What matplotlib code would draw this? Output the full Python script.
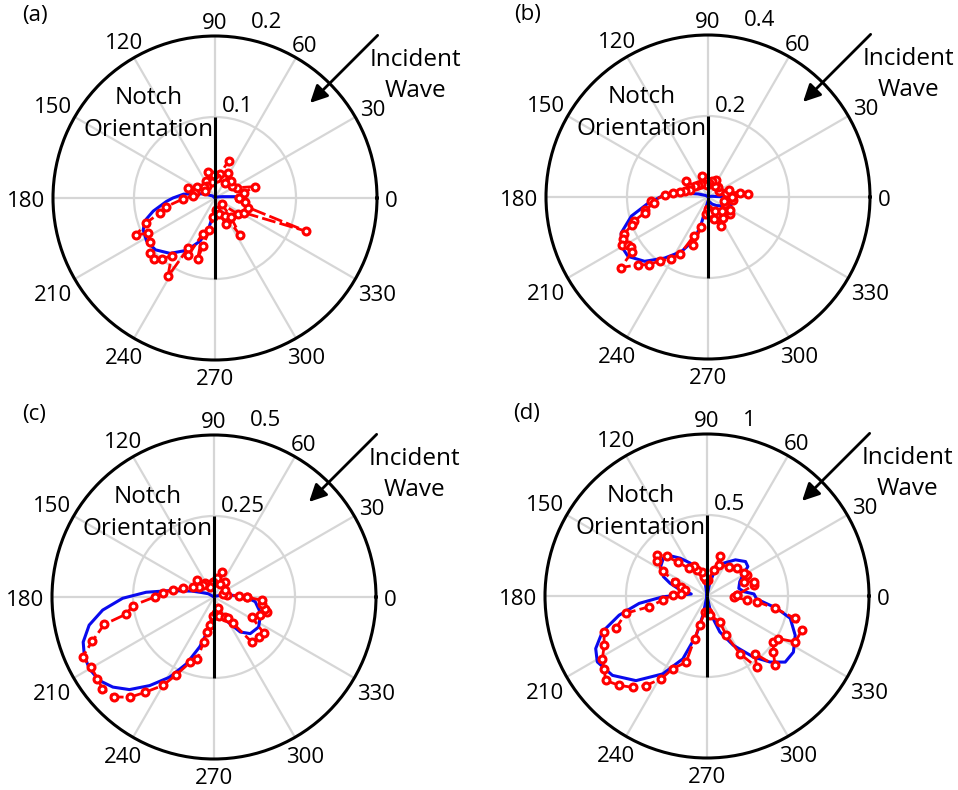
import numpy as np
import matplotlib
matplotlib.use("Agg")
import matplotlib.pyplot as plt

plt.rcParams['font.family'] = ['Open Sans', 'DejaVu Sans']
plt.rcParams['font.size'] = 16

theta_ticks = list(range(0, 360, 30))

## panel (a)
a_rmax = 0.2
a_rlabels = ["0.1", "0.2"]
a_blue_deg = [0, 3, 5, 10, 20, 40, 90, 140, 160, 167, 173, 180, 184, 192, 198, 204,
              212, 221, 231, 242, 251, 258, 264, 270, 280, 290, 305, 322, 336, 355]
a_blue_r = [0.037, 0.031, 0.019, 0.0095, 0.004, 0.001, 0.0, 0.004, 0.015, 0.023, 0.039,
            0.052, 0.060, 0.078, 0.091, 0.097, 0.0997, 0.0975, 0.088, 0.073, 0.056, 0.040,
            0.020, 0.012, 0.013, 0.018, 0.025, 0.037, 0.044, 0.041]
a_red_deg = [0, 10, 16, 25, 35, 47, 55, 62, 70, 78, 85, 92, 100, 106, 116, 125, 135, 142,
             150, 160, 167, 174, 182, 190, 195, 200, 205, 208, 214, 220, 225, 229, 233,
             239, 242, 245, 251, 254, 256, 260, 265, 275, 285, 293, 300, 304, 310, 318,
             325, 333, 340, 344, 352]
a_red_r = [0.030, 0.036, 0.051, 0.030, 0.025, 0.029, 0.022, 0.035, 0.049, 0.030, 0.025,
           0.028, 0.020, 0.033, 0.024, 0.018, 0.020, 0.015, 0.026, 0.035, 0.025, 0.027,
           0.040, 0.061, 0.070, 0.091, 0.107, 0.093, 0.097, 0.105, 0.107, 0.100, 0.089,
           0.113, 0.070, 0.078, 0.047, 0.078, 0.061, 0.040, 0.024, 0.015, 0.020, 0.035,
           0.025, 0.055, 0.030, 0.011, 0.035, 0.040, 0.120, 0.043, 0.037]

## panel (b)
b_rmax = 0.4
b_rlabels = ["0.2", "0.4"]
b_blue_deg = [0, 10, 20, 60, 120, 150, 163, 171.5, 177, 186, 194, 202.5, 209.6, 216.6,
              225.4, 234.6, 244, 252.6, 256, 260, 270, 285, 300, 315, 330, 340, 350]
b_blue_r = [0.045, 0.010, 0.004, 0.0, 0.002, 0.008, 0.026, 0.067, 0.107, 0.149, 0.195,
            0.232, 0.246, 0.246, 0.223, 0.185, 0.150, 0.110, 0.066, 0.023, 0.010, 0.012,
            0.020, 0.030, 0.045, 0.060, 0.064]
b_red_deg = [0, 4, 8, 14, 19, 30, 45, 58, 64, 75, 85, 95, 106, 118, 130, 141, 144, 152,
             158, 165, 170, 173, 178, 184, 186, 192, 194, 198, 200, 204, 206, 209, 211,
             213, 216, 219, 224, 229, 233, 239, 244, 250, 253, 257, 262, 268, 276, 285,
             293, 296, 305, 315, 322, 330, 338, 345, 354]
b_red_r = [0.060, 0.099, 0.079, 0.045, 0.056, 0.030, 0.035, 0.031, 0.047, 0.040, 0.035,
           0.030, 0.055, 0.035, 0.040, 0.042, 0.066, 0.050, 0.049, 0.060, 0.071, 0.087,
           0.107, 0.140, 0.133, 0.160, 0.161, 0.192, 0.200, 0.227, 0.234, 0.242, 0.231,
           0.228, 0.233, 0.277, 0.241, 0.221, 0.197, 0.179, 0.157, 0.102, 0.125, 0.077,
           0.043, 0.030, 0.040, 0.055, 0.079, 0.039, 0.064, 0.050, 0.070, 0.062, 0.045,
           0.042, 0.062]

## panel (c)
c_rmax = 0.5
c_rlabels = ["0.25", "0.5"]
c_blue_deg = [0.6, 7, 15, 30, 90, 150, 160, 165, 171.8, 176, 180.8, 186.7, 192.7, 199,
              204.2, 209.9, 216, 221.7, 227.6, 234, 241, 247.6, 254, 260, 266, 275, 291,
              301, 306.9, 314.7, 326, 340.7, 353.5]
c_blue_r = [0.096, 0.050, 0.020, 0.005, 0.0, 0.020, 0.040, 0.070, 0.138, 0.210, 0.282,
            0.346, 0.395, 0.427, 0.439, 0.444, 0.438, 0.418, 0.387, 0.338, 0.283, 0.223,
            0.160, 0.104, 0.056, 0.050, 0.066, 0.096, 0.135, 0.159, 0.166, 0.153, 0.128]
c_red_deg = [0, 3, 9, 20, 35, 54, 65, 73, 82, 92, 100, 111, 122, 131, 136, 145, 155, 164,
             170, 175, 180, 186, 191, 194, 200, 204.5, 209.7, 215, 219.5, 225, 230, 234,
             240, 244, 250, 255, 257, 259, 262, 268, 277, 284, 291, 298, 304, 306, 310,
             318, 324, 332, 339, 344, 347, 352, 356]
c_red_r = [0.101, 0.076, 0.040, 0.030, 0.040, 0.059, 0.045, 0.082, 0.058, 0.045, 0.040,
           0.034, 0.050, 0.050, 0.075, 0.055, 0.070, 0.099, 0.128, 0.158, 0.183, 0.252,
           0.276, 0.349, 0.400, 0.446, 0.437, 0.439, 0.446, 0.436, 0.404, 0.364, 0.315,
           0.268, 0.214, 0.197, 0.143, 0.110, 0.088, 0.060, 0.050, 0.060, 0.038, 0.070,
           0.080, 0.101, 0.183, 0.185, 0.190, 0.132, 0.153, 0.170, 0.162, 0.150, 0.148]

## panel (d) - blue (not monotonic in angle)
d_rmax = 1.0
d_rlabels = ["0.5", "1"]
d_blue_deg = [90, 78, 73.6, 63, 51.8, 41.8, 35.8, 31.7, 23.7, 13.6, 6.7, 2.5, 356.5, 350,
              345, 336, 327, 319.8, 313.7, 307.2, 298, 289.6, 282.8, 270, 258, 254.7, 249,
              240.4, 230, 220, 211, 205.3, 198.9, 192.3, 186.2, 181, 172.7, 167.3, 161,
              156, 147.5, 139, 132.5, 125.3, 117, 106.4, 97.5]
d_blue_r = [0.0, 0.080, 0.147, 0.228, 0.284, 0.319, 0.311, 0.268, 0.221, 0.202, 0.229,
            0.290, 0.307, 0.437, 0.532, 0.596, 0.636, 0.632, 0.564, 0.473, 0.344, 0.235,
            0.121, 0.0, 0.121, 0.251, 0.415, 0.553, 0.682, 0.762, 0.790, 0.760, 0.683,
            0.555, 0.421, 0.273, 0.098, 0.170, 0.241, 0.295, 0.339, 0.357, 0.337, 0.286,
            0.228, 0.147, 0.079]
d_red_deg = [1.9, 13.3, 17, 21.3, 27.7, 31.7, 42.7, 53.5, 69.4, 71.3, 75.6, 85, 95, 99.8,
             101.6, 111, 114.4, 123.5, 130.4, 135.5, 140.6, 145.5, 151, 155.6, 160, 164.5,
             176.3, 178.3, 185.2, 190.5, 192, 199.6, 199.2, 205.6, 211, 215.2, 219.8,
             225.5, 230.8, 235.7, 241, 244.8, 252.5, 253.8, 255.8, 262, 273.7, 278, 296.3,
             296, 299.7, 304.9, 309.7, 314.4, 319.9, 325.3, 329.2, 332.5, 340.2, 345.7,
             349.7, 353.5, 354, 358.6]
d_red_r = [0.186, 0.298, 0.303, 0.245, 0.281, 0.268, 0.253, 0.226, 0.206, 0.258, 0.167,
           0.100, 0.100, 0.122, 0.154, 0.173, 0.200, 0.206, 0.272, 0.348, 0.402, 0.377,
           0.312, 0.216, 0.170, 0.140, 0.160, 0.211, 0.274, 0.362, 0.513, 0.598, 0.673,
           0.704, 0.753, 0.778, 0.814, 0.774, 0.727, 0.669, 0.584, 0.496, 0.428, 0.274,
           0.186, 0.100, 0.097, 0.119, 0.178, 0.270, 0.410, 0.536, 0.463, 0.600, 0.536,
           0.498, 0.513, 0.614, 0.623, 0.562, 0.427, 0.312, 0.250, 0.166]

panels = [
    ("(a)", (215, 198), a_rmax, a_rlabels, a_blue_deg, a_blue_r, a_red_deg, a_red_r),
    ("(b)", (708, 197), b_rmax, b_rlabels, b_blue_deg, b_blue_r, b_red_deg, b_red_r),
    ("(c)", (214, 597), c_rmax, c_rlabels, c_blue_deg, c_blue_r, c_red_deg, c_red_r),
    ("(d)", (707, 596), d_rmax, d_rlabels, d_blue_deg, d_blue_r, d_red_deg, d_red_r),
]

W, H, R = 958, 790, 162
fig = plt.figure(figsize=(W / 100, H / 100), dpi=100)

for tag, (cx, cy), rmax, rlabels, bdeg, br, rdeg, rr in panels:
    ax = fig.add_axes([(cx - R) / W, (H - cy - R) / H, 2 * R / W, 2 * R / H],
                      projection='polar')
    ax.set_ylim(0, rmax)
    ax.set_xticks(np.deg2rad(theta_ticks))
    ax.set_xticklabels([])
    ax.set_yticks([rmax / 2])
    ax.set_yticklabels([])
    ax.tick_params(length=0)
    ax.grid(True, color='#d6d6d6', lw=1.6)
    ax.spines['polar'].set_color('black')
    ax.spines['polar'].set_linewidth(2.2)

    # closed curves
    bt = np.deg2rad(bdeg + bdeg[:1])
    ax.plot(bt, br + br[:1], color='#0a0aee', lw=2.2, zorder=3)
    rt = np.deg2rad(rdeg + rdeg[:1])
    ax.plot(rt, rr + rr[:1], color='#ff0000', lw=2, ls=(0, (5, 1.5)), marker='o',
            ms=5, mfc='white', mec='#ff0000', mew=2.2, zorder=4)

    # notch orientation line
    for t in (np.pi / 2, 3 * np.pi / 2):
        ax.plot([t, t], [0, rmax / 2], color='black', lw=2.2, zorder=5,
                solid_capstyle='butt')

    # angle labels just outside the circle
    for deg in theta_ticks:
        lab = str(deg)
        t = np.deg2rad(deg)
        hw = 6.4 * len(lab)
        d = 8 + np.hypot(hw * np.cos(t), 8 * np.sin(t))
        ax.annotate(lab, xy=(t, rmax), xytext=(d * np.cos(t) * 0.72, d * np.sin(t) * 0.72 - 2.5),
                    textcoords='offset points', ha='center', va='center',
                    annotation_clip=False)

    # radial labels
    ax.text(0.5 + 7 / 324, 0.5 + 91 / 324, rlabels[0], transform=ax.transAxes,
            ha='left', va='center')
    ax.text(0.5 + 36 / 324, 0.5 + 176 / 324, rlabels[1], transform=ax.transAxes,
            ha='left', va='center')

    # incident wave arrow
    ax.annotate('', xy=(np.pi / 4, 0.83 * rmax), xytext=(np.pi / 4, 1.42 * rmax),
                arrowprops=dict(arrowstyle='-|>', color='black', lw=2,
                                mutation_scale=26, shrinkA=0, shrinkB=0),
                annotation_clip=False)
    ax.text(1.118, 0.878, "Incident\nWave", transform=ax.transAxes, ha='center',
            va='center', multialignment='center', linespacing=1.35, fontsize=17.5)
    ax.text(0.295, 0.759, "Notch\nOrientation", transform=ax.transAxes, ha='center',
            va='center', multialignment='center', linespacing=1.45, fontsize=17.5)
    ax.text(-0.056, 1.062, tag, transform=ax.transAxes, ha='center', va='center')

fig.savefig("out.png", dpi=100)
